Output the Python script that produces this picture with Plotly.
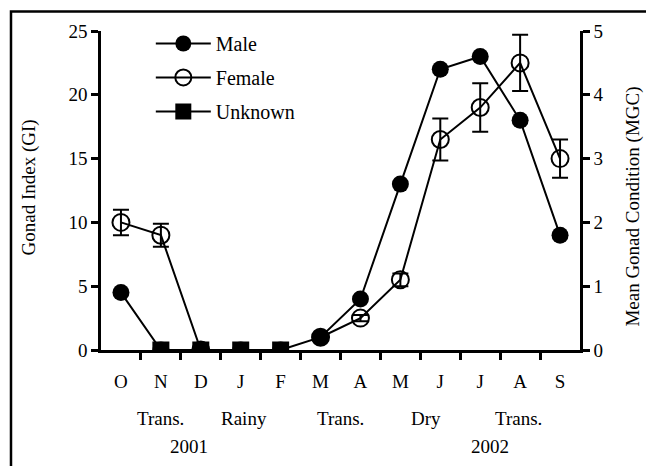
import plotly.graph_objects as go

months = ["O", "N", "D", "J", "F", "M", "A", "M", "J", "J", "A", "S"]
xi = list(range(len(months)))

male_gi = [4.5, 0, 0, 0, 0, 1, 4, 13, 22, 23, 18, 9]
female_mgc = [2.0, 1.8, 0, None, None, 0.2, 0.5, 1.1, 3.3, 3.8, 4.5, 3.0]
female_err = [0.2, 0.18, 0, 0, 0, 0, 0.05, 0.1, 0.33, 0.38, 0.44, 0.3]
unknown_gi = [None, 0, 0, 0, 0, None, None, None, None, None, None, None]

season_labels = ["Trans.", "Rainy", "Trans.", "Dry", "Trans."]
season_pos = [1.0, 3.08, 5.5, 7.65, 9.95]
year_labels = ["2001", "2002"]
year_pos = [1.7, 9.25]

gi_ticks = [0, 5, 10, 15, 20, 25]
mgc_ticks = [0, 1, 2, 3, 4, 5]
boundaries = [i + 0.5 for i in range(len(months) - 1)]

FONT = "Liberation Serif, Times New Roman, serif"
BLACK = "#000000"

fig = go.Figure()
fig.add_trace(go.Scatter(
    x=xi, y=male_gi, name="Male", mode="lines+markers",
    line=dict(color=BLACK, width=2),
    marker=dict(symbol="circle", size=17, color=BLACK),
    legendgroup="m", legendrank=1, yaxis="y", xaxis="x"))
fig.add_trace(go.Scatter(
    x=xi, y=unknown_gi, name="Unknown", mode="lines+markers",
    line=dict(color=BLACK, width=2),
    marker=dict(symbol="square", size=17, color=BLACK),
    legendgroup="u", legendrank=3, yaxis="y", xaxis="x"))
fig.add_trace(go.Scatter(
    x=xi, y=female_mgc, name="Female", mode="lines+markers",
    line=dict(color=BLACK, width=2),
    marker=dict(symbol="circle-open", size=17, color=BLACK, line=dict(width=2, color=BLACK)),
    error_y=dict(type="data", array=female_err, visible=True, color=BLACK, thickness=2, width=8),
    legendgroup="f", legendrank=2, yaxis="y2", xaxis="x"))

axis_common = dict(showgrid=False, zeroline=False)

fig.update_layout(
    template="none",
    width=646, height=466,
    margin=dict(l=101, r=66, t=31, b=116, pad=0),
    paper_bgcolor="white", plot_bgcolor="white",
    font=dict(family=FONT, size=19, color=BLACK),
    showlegend=True,
    legend=dict(x=0.104, y=1.022, xanchor="left", yanchor="top",
                bgcolor="rgba(0,0,0,0)", borderwidth=0,
                font=dict(size=20, family=FONT, color=BLACK),
                traceorder="grouped", tracegroupgap=5, itemwidth=55),
    xaxis=dict(**axis_common, range=[-0.5, 11.5], tickmode="array",
               tickvals=xi, ticktext=months, ticks="outside", ticklen=12,
               tickcolor="rgba(0,0,0,0)", showline=True, linewidth=2.5,
               linecolor=BLACK, tickfont=dict(family=FONT, size=19, color=BLACK),
               minor=dict(tickmode="array", tickvals=boundaries, ticks="outside",
                          ticklen=7, tickwidth=2.5, tickcolor=BLACK)),
    xaxis2=dict(**axis_common, range=[-0.5, 11.5], overlaying="x", anchor="y",
                side="bottom", tickmode="array", tickvals=boundaries,
                ticks="inside", ticklen=7, tickwidth=2.5, tickcolor=BLACK,
                showticklabels=False, showline=False),
    yaxis=dict(**axis_common, range=[0, 25], tickmode="array", tickvals=gi_ticks,
               ticks="outside", ticklen=7, tickwidth=2.5, tickcolor=BLACK,
               tickfont=dict(family=FONT, size=19, color=BLACK),
               showline=True, linewidth=2.5, linecolor=BLACK, side="left"),
    yaxis2=dict(**axis_common, range=[0, 5], tickmode="array", tickvals=mgc_ticks,
                ticks="outside", ticklen=7, tickwidth=2.5, tickcolor=BLACK,
                tickfont=dict(family=FONT, size=19, color=BLACK),
                showline=True, linewidth=2.5, linecolor=BLACK, side="right",
                overlaying="y", anchor="x"),
    yaxis3=dict(**axis_common, range=[0, 25], tickmode="array", tickvals=gi_ticks,
                ticks="inside", ticklen=7, tickwidth=2.5, tickcolor=BLACK,
                showticklabels=False, showline=False, side="left",
                overlaying="y", anchor="x"),
    yaxis4=dict(**axis_common, range=[0, 5], tickmode="array", tickvals=mgc_ticks,
                ticks="inside", ticklen=7, tickwidth=2.5, tickcolor=BLACK,
                showticklabels=False, showline=False, side="right",
                overlaying="y", anchor="x"),
)

annotations = []
for lab, pos in zip(season_labels, season_pos):
    annotations.append(dict(x=pos, y=-0.2132, xref="x", yref="paper", text=lab,
                            showarrow=False, xanchor="center", yanchor="middle",
                            font=dict(size=19, family=FONT)))
for lab, pos in zip(year_labels, year_pos):
    annotations.append(dict(x=pos, y=-0.301, xref="x", yref="paper", text=lab,
                            showarrow=False, xanchor="center", yanchor="middle",
                            font=dict(size=19, family=FONT)))
annotations.append(dict(x=-0.150, y=0.51, xref="paper", yref="paper",
                        text="Gonad Index (GI)", textangle=-90, showarrow=False,
                        xanchor="center", yanchor="middle", font=dict(size=19, family=FONT)))
annotations.append(dict(x=1.111, y=0.45, xref="paper", yref="paper",
                        text="Mean Gonad Condition (MGC)", textangle=-90, showarrow=False,
                        xanchor="center", yanchor="middle", font=dict(size=19, family=FONT)))
fig.update_layout(annotations=annotations)

fig.add_shape(type="rect", xref="paper", yref="paper",
              x0=-0.1879, y0=-0.5, x1=1.2, y1=1.0611,
              line=dict(color=BLACK, width=2.5), fillcolor="rgba(0,0,0,0)", layer="below")

fig.write_html("out.html", config={"displayModeBar": False},
               post_script="document.body.style.margin='0px';document.body.style.overflow='hidden';")
